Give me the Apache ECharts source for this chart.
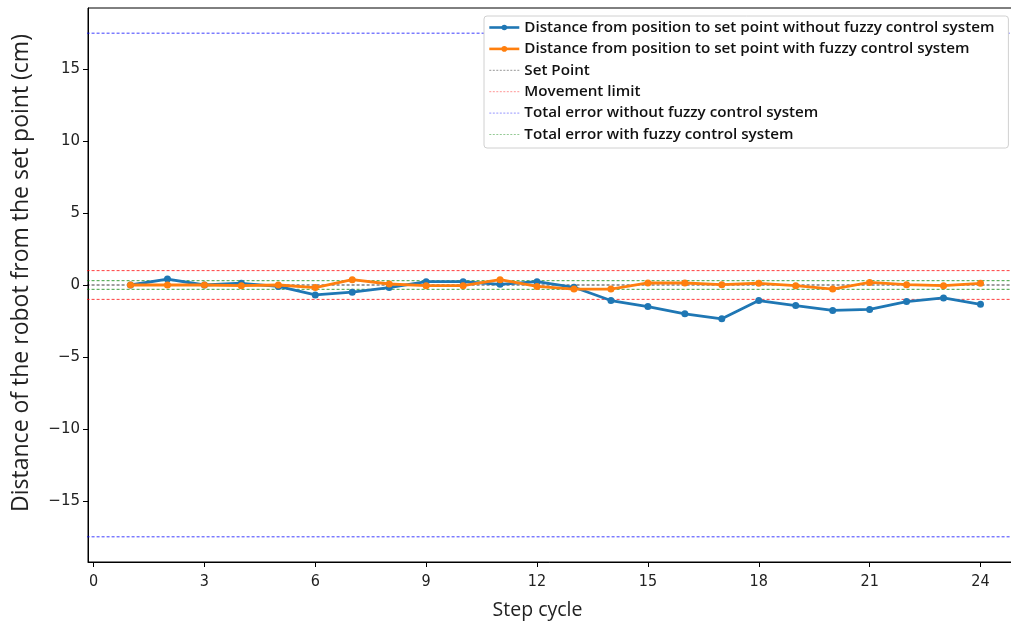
<!DOCTYPE html>
<html>
<head>
<meta charset="utf-8">
<script src="https://cdn.jsdelivr.net/npm/echarts@6/dist/echarts.min.js"></script>
<style>html,body{margin:0;padding:0;background:#fff}#c{width:1011px;height:622px}</style>
</head>
<body>
<div id="c"></div>
<script>
const steps = [1,2,3,4,5,6,7,8,9,10,11,12,13,14,15,16,17,18,19,20,21,22,23,24];
const withoutFuzzy = [0.0,0.41,0.0,0.12,-0.1,-0.69,-0.5,-0.18,0.23,0.23,0.05,0.23,-0.16,-1.08,-1.5,-2.0,-2.35,-1.08,-1.43,-1.77,-1.7,-1.15,-0.9,-1.34];
const withFuzzy = [0.0,0.0,0.0,-0.05,0.0,-0.18,0.37,0.07,-0.05,-0.05,0.37,-0.1,-0.28,-0.28,0.14,0.14,0.02,0.12,-0.05,-0.28,0.18,0.02,-0.05,0.12];
const setPoint = [0];
const movementLimit = [1, -1];
const totalErrorWithout = [17.5, -17.5];
const totalErrorWith = [0.3, -0.3];
const xTicks = [0,3,6,9,12,15,18,21,24];
const yTicks = [-15,-10,-5,0,5,10,15];
const xSpan = [-1, 26];
const seriesNames = [
  'Distance from position to set point without fuzzy control system',
  'Distance from position to set point with fuzzy control system',
  'Set Point',
  'Movement limit',
  'Total error without fuzzy control system',
  'Total error with fuzzy control system'
];

const chart = echarts.init(document.getElementById('c'));
function pairs(xs, ys){ return xs.map((x,i)=>[x, ys[i]]); }
function hlines(name, vals, color){
  return vals.map(v => ({
    name: name, type: 'line', data: xSpan.map(x => [x, v]),
    symbol: 'none', showSymbol: false, silent: true, clip: true,
    lineStyle: {color: color, width: 0.9, type: [3, 2], opacity: 0.85},
    itemStyle: {color: color},
    z: 2
  }));
}
const minusFmt = v => String(v).replace('-', '\u2212');
const legendData = seriesNames.map((n, i) => i < 2
  ? {name: n, lineStyle: {width: 2.6}}
  : {name: n, itemStyle: {opacity: 0}, lineStyle: {width: 0.7, opacity: 0.6, type: [2, 1.5]}});
chart.setOption({
  animation: false,
  backgroundColor: '#fff',
  grid: {left: 88, top: 8, bottom: 60, right: -12, show: true, borderColor: '#000', borderWidth: 1, containLabel: false, outerBoundsMode: 'none'},
  xAxis: {
    type: 'value', min: -0.15, max: 25.15,
    name: 'Step cycle', nameLocation: 'middle', nameGap: 38,
    nameTextStyle: {fontFamily: 'Open Sans', fontSize: 19.5, color: '#222', padding: [0, 36, 0, 0]},
    axisLine: {show: true, onZero: false, lineStyle: {color: '#000'}},
    axisTick: {show: true, length: 5, inside: false, customValues: xTicks, lineStyle: {color: '#000'}},
    axisLabel: {customValues: xTicks, fontFamily: 'DejaVu Sans Condensed', fontSize: 16, color: '#222', margin: 12},
    splitLine: {show: false}
  },
  yAxis: {
    type: 'value', min: -19.25, max: 19.25,
    name: 'Distance of the robot from the set point (cm)', nameLocation: 'middle', nameGap: 55,
    nameTextStyle: {fontFamily: 'Open Sans', fontSize: 23, color: '#222', padding: [0, 0, 0, 24]},
    axisLine: {show: true, onZero: false, lineStyle: {color: '#000'}},
    axisTick: {show: true, length: 5, customValues: yTicks, lineStyle: {color: '#000'}},
    axisLabel: {customValues: yTicks, fontFamily: 'DejaVu Sans', fontSize: 15, color: '#222', margin: 8, formatter: minusFmt},
    splitLine: {show: false}
  },
  legend: {
    orient: 'vertical', left: 484, top: 16,
    backgroundColor: '#fff', borderColor: '#d0d0d0', borderWidth: 1, borderRadius: 3,
    padding: [4, 14, 6, 4],
    itemWidth: 30, itemHeight: 7, itemGap: 6.4,
    textStyle: {fontFamily: 'Open Sans', fontWeight: 600, fontSize: 15.2, color: '#111'},
    data: legendData
  },
  series: [
    {
      name: seriesNames[0], type: 'line', data: pairs(steps, withoutFuzzy),
      symbol: 'circle', symbolSize: 7, z: 3,
      lineStyle: {color: '#1f77b4', width: 2.8}, itemStyle: {color: '#1f77b4'}
    },
    {
      name: seriesNames[1], type: 'line', data: pairs(steps, withFuzzy),
      symbol: 'circle', symbolSize: 7, z: 4,
      lineStyle: {color: '#ff7f0e', width: 2.8}, itemStyle: {color: '#ff7f0e'}
    }
  ].concat(
    hlines(seriesNames[2], setPoint, '#000000'),
    hlines(seriesNames[3], movementLimit, '#ff0000'),
    hlines(seriesNames[4], totalErrorWithout, '#0000ff'),
    hlines(seriesNames[5], totalErrorWith, '#008000')
  )
});
</script>
</body>
</html>
